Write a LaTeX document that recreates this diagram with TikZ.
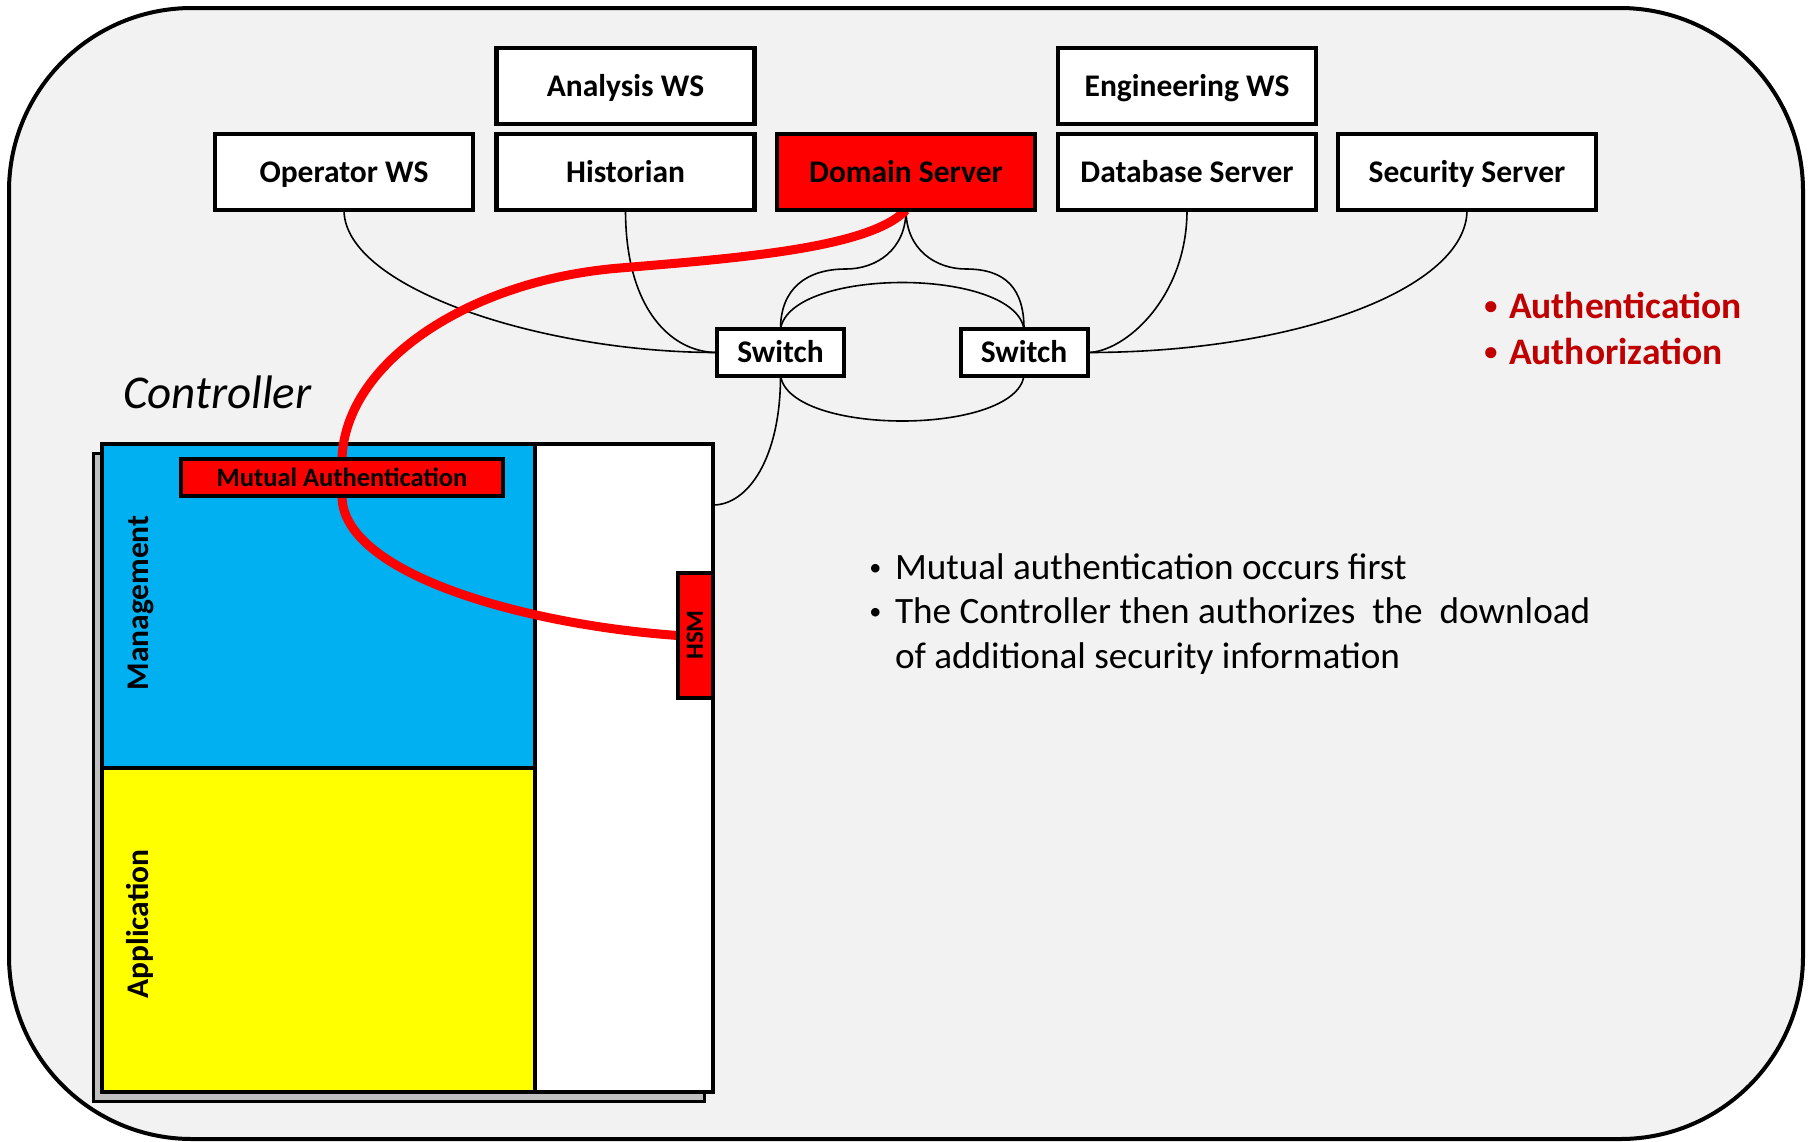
\documentclass[tikz,border=0pt]{standalone}
\usepackage{fontspec}
\usepackage{graphicx}
\setmainfont{Carlito}
\pgfdeclarelayer{base}
\pgfdeclarelayer{wires}
\pgfsetlayers{base,wires,main}
\definecolor{panelbg}{HTML}{F2F2F2}
\definecolor{mgmtblue}{HTML}{00B0F0}
\definecolor{appyellow}{HTML}{FFFF00}
\definecolor{alertred}{HTML}{FF0000}
\definecolor{notered}{HTML}{C00000}
\definecolor{shadowgrey}{HTML}{BFBFBF}
% small list bullet in a box of the given width
\newcommand{\listdot}[2]{\makebox[#1][c]{\raisebox{0.1em}{\scalebox{#2}{•}}}}

\begin{document}
\begin{tikzpicture}[x=1pt,y=-1pt,
  every node/.style={inner sep=0pt,outer sep=0pt},
  host/.style={draw,line width=4.5pt,fill=white,minimum width=258pt,minimum height=76pt,
    font=\fontsize{31.5}{36}\selectfont\bfseries,text height=20pt,text depth=0pt},
  switchbox/.style={draw,line width=4pt,fill=white,minimum width=127pt,minimum height=47pt,
    font=\fontsize{31.5}{36}\selectfont\bfseries,text height=20pt,text depth=0pt},
  redbox/.style={draw,line width=4pt,fill=alertred},
  panel/.style={draw,line width=3.5pt,minimum width=433pt,minimum height=324pt},
  wire/.style={line width=1.6pt},
  redwire/.style={line width=9pt,alertred},
  sidelabel/.style={rotate=90,anchor=base,font=\fontsize{31.5}{36}\selectfont\bfseries},
]
\useasboundingbox (0,0) rectangle (1811,1141);

% frame and controller body
\begin{pgfonlayer}{base}
  \fill[white] (0,0) rectangle (1811,1141);
  \draw[line width=4pt,fill=panelbg,rounded corners=183pt] (9,8) rectangle (1803,1139);
  \node[draw,line width=3pt,fill=shadowgrey,minimum width=611pt,minimum height=648pt] (ctrlshadow) at (398.5,777) {};
  \node[draw,line width=4.5pt,fill=white,minimum width=611pt,minimum height=648pt] (ctrl) at (407.5,768) {};
  \node[panel,fill=mgmtblue] (mgmt) at (318.5,606) {};
  \node[panel,fill=appyellow] (app) at (318.5,930) {};
\end{pgfonlayer}

% hosts
\node[host] (ana)  at (625.5,86)  {Analysis WS};
\node[host] (eng)  at (1187,86)   {Engineering WS};
\node[host] (op)   at (344,172)   {Operator WS};
\node[host] (hist) at (625.5,172) {Historian};
\node[host,fill=alertred] (dom) at (906,172) {Domain Server};
\node[host] (db)   at (1187,172)  {Database Server};
\node[host] (sec)  at (1467,172)  {Security Server};

% switches
\node[switchbox] (sw1) at (780.5,352.5) {Switch};
\node[switchbox] (sw2) at (1024,352.5)  {Switch};

% controller parts
\node[anchor=base west,font=\fontsize{47}{56}\selectfont\itshape] (ctrllbl) at (123,408) {Controller};
\node[sidelabel] (mgmtlbl) at (148,603) {Management};
\node[sidelabel] (applbl) at (148,924) {Application};
\node[redbox,minimum width=322pt,minimum height=37pt,
  font=\fontsize{26.5}{30}\selectfont\bfseries,text height=17pt,text depth=0pt] (mut) at (342,477.5) {Mutual Authentication};
\node[redbox,minimum width=35pt,minimum height=125pt] (hsm) at (695.5,635.5) {};
\node[rotate=90,anchor=base,font=\fontsize{25}{30}\selectfont\bfseries] (hsmlbl) at (703,635) {HSM};

% notes
\node[anchor=base west,text=notered,font=\fontsize{37.5}{46}\selectfont\bfseries] (authlist) at (1473,318)
  {\begin{tabular}[t]{@{}l@{}}\listdot{36pt}{0.7}Authentication\\\listdot{36pt}{0.7}Authorization\end{tabular}};
\node[anchor=base west,font=\fontsize{37.2}{44.5}\selectfont] (steps) at (856,579)
  {\begin{tabular}[t]{@{}l@{}}\listdot{39pt}{0.65}Mutual authentication occurs first\\
   \listdot{39pt}{0.65}The Controller then authorizes\ \ the\ \ download\\
   \hspace*{39pt}of additional security information\end{tabular}};

% network cabling and the authentication path
\begin{pgfonlayer}{wires}
  \coordinate (dl) at (846,269);
  \coordinate (dr) at (966,269);
  \coordinate (lvl) at (0,505);
  \coordinate (cin) at (ctrl.east |- lvl);
  \coordinate (rj) at (620,268);
  \draw[wire] (op.south) .. controls +(0,78) and +(-175,0) .. (sw1.west);
  \draw[wire] (hist.south) .. controls +(0,100) and +(-45,0) .. (sw1.west);
  \draw[wire] (dom.south) .. controls +(0,40) and +(30,0) .. (dl) .. controls +(-40,0) and +(0,-40) .. (sw1.north);
  \draw[wire] (dom.south) .. controls +(0,40) and +(-30,0) .. (dr) .. controls +(40,0) and +(0,-40) .. (sw2.north);
  \draw[wire] (sw1.north) .. controls +(10,-62) and +(-10,-62) .. (sw2.north);
  \draw[wire] (sw1.south) .. controls +(10,60) and +(-10,60) .. (sw2.south);
  \draw[wire] (sw1.south) .. controls +(0,82) and +(35,0) .. (cin);
  \draw[wire] (db.south) .. controls +(0,88) and +(37,0) .. (sw2.east);
  \draw[wire] (sec.south) .. controls +(0,78) and +(210,0) .. (sw2.east);
  \draw[redwire] (dom.south) .. controls +(-36,38) and +(120,-10) .. (rj)
                             .. controls +(-150,12) and +(3,-97) .. (mut.north);
  \draw[redwire] (mut.south) .. controls +(0,77) and +(-156,-11) .. (hsm.west);
\end{pgfonlayer}
\end{tikzpicture}
\end{document}
